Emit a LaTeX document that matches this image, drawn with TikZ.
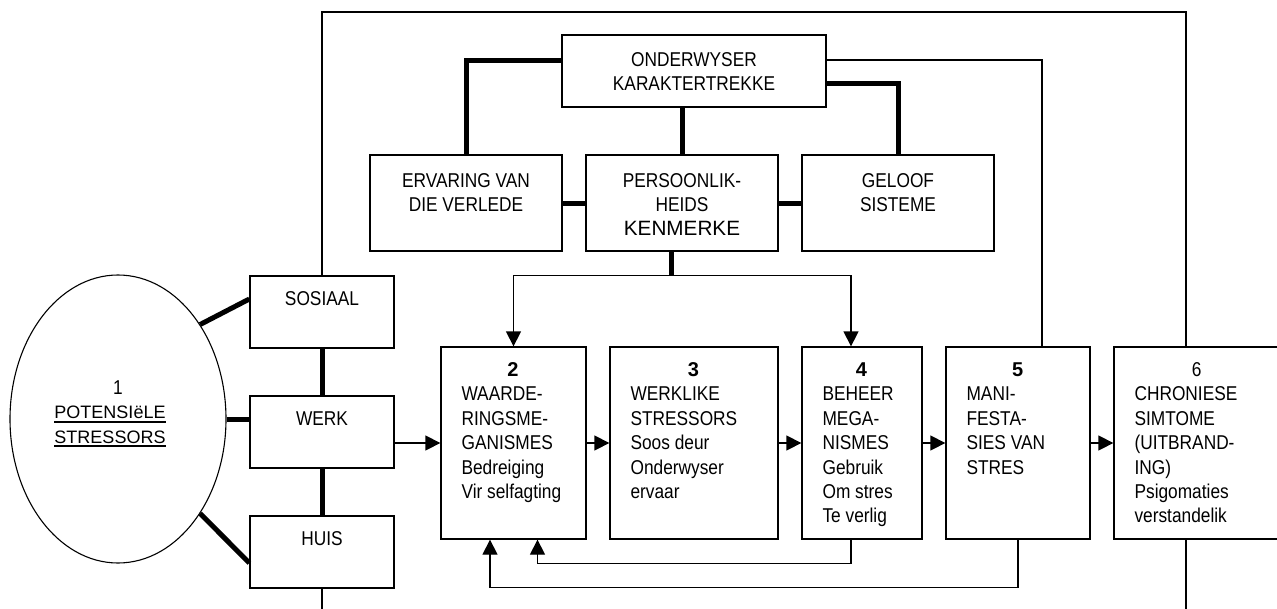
\documentclass[tikz,border=0pt]{standalone}
\usepackage{fontspec}
\setmainfont{Liberation Sans}[FakeStretch=0.865]
\newfontfamily\arialfont{Liberation Sans}
\usetikzlibrary{shapes.geometric,arrows.meta,calc}
\newcommand\mystrut{\rule{0pt}{17pt}}
\newcommand\numfont{\arialfont\bfseries}
\newcommand\myul[1]{\setbox0\hbox{#1}\rlap{\rule[-4pt]{\wd0}{1.8pt}}\box0}
\tikzset{
  box/.style={draw, line width=1.3pt, fill=white, inner sep=0pt, rectangle},
  thinln/.style={line width=1.3pt},
  thickln/.style={line width=5pt},
  arr/.style={line width=1.3pt, -{Triangle[length=15pt,width=15pt]}},
  txt/.style={inner sep=0pt, align=left, font=\fontsize{20}{24.4}\selectfont},
  ctxt/.style={inner sep=0pt, align=center, font=\fontsize{20}{24.4}\selectfont},
}
\begin{document}
\begin{tikzpicture}[x=1pt,y=-1pt]
\useasboundingbox (0,0) rectangle (1277,608);

% top group
\node[box, minimum width=264pt, minimum height=72pt] (ond) at (694,71) {};
\node[box, minimum width=192pt, minimum height=96pt] (erv) at (466,203) {};
\node[box, minimum width=192pt, minimum height=96pt] (per) at (682,203) {};
\node[box, minimum width=192pt, minimum height=96pt] (gel) at (898,203) {};

\node[ctxt, anchor=north] (ondt) at ([shift={(0,14.7)}]ond.north) {\mystrut ONDERWYSER\\KARAKTERTREKKE};
\node[ctxt, anchor=north] (ervt) at ([shift={(0,15.5)}]erv.north) {\mystrut ERVARING VAN\\DIE VERLEDE};
\node[ctxt, anchor=north] (pert) at ([shift={(0,15.5)}]per.north) {\mystrut PERSOONLIK-\\HEIDS\\{\arialfont\fontsize{20.7}{24.4}\selectfont KENMERKE}};
\node[ctxt, anchor=north] (gelt) at ([shift={(0,15.5)}]gel.north) {\mystrut GELOOF\\SISTEME};

% left group
\node[draw, ellipse, line width=1.1pt, minimum width=216pt, minimum height=288pt, inner sep=0pt] (ell) at (118,419) {};
\node[ctxt, anchor=north] (ellt) at (110,377) {\hspace*{16pt}1\mystrut\\{\arialfont\fontsize{18}{24.4}\selectfont\myul{POTENSIëLE}}\\{\arialfont\fontsize{18}{24.4}\selectfont\myul{STRESSORS}}};

\node[box, minimum width=144pt, minimum height=72pt] (sos) at (322,312) {};
\node[box, minimum width=144pt, minimum height=72pt] (werk) at (322,432) {};
\node[box, minimum width=144pt, minimum height=72pt] (huis) at (322,552) {};
\node[ctxt, anchor=north] (sost) at ([shift={(0,12.5)}]sos.north) {\mystrut SOSIAAL};
\node[ctxt, anchor=north] (werkt) at ([shift={(0,12.5)}]werk.north) {\mystrut WERK};
\node[ctxt, anchor=north] (huist) at ([shift={(0,12.5)}]huis.north) {\mystrut HUIS};

% main row
\node[box, minimum width=145pt, minimum height=192pt] (b2) at (513.5,443) {};
\node[box, minimum width=168pt, minimum height=192pt] (b3) at (694,443) {};
\node[box, minimum width=120pt, minimum height=192pt] (b4) at (862,443) {};
\node[box, minimum width=144pt, minimum height=192pt] (b5) at (1018,443) {};
\node[box, minimum width=166pt, minimum height=192pt] (b6) at (1197,443) {};

\node[txt, anchor=north west] (b2t) at ([shift={(21,13)}]b2.north west)
  {\hbox to 103pt{\mystrut\hfil\numfont 2\hfil}\\WAARDE-\\RINGSME-\\GANISMES\\Bedreiging\\Vir selfagting};
\node[txt, anchor=north west] (b3t) at ([shift={(21,13)}]b3.north west)
  {\hbox to 126pt{\mystrut\hfil\numfont 3\hfil}\\WERKLIKE\\STRESSORS\\Soos deur\\Onderwyser\\ervaar};
\node[txt, anchor=north west] (b4t) at ([shift={(21,13)}]b4.north west)
  {\hbox to 78pt{\mystrut\hfil\numfont 4\hfil}\\BEHEER\\MEGA-\\NISMES\\Gebruik\\Om stres\\Te verlig};
\node[txt, anchor=north west] (b5t) at ([shift={(21,13)}]b5.north west)
  {\hbox to 102pt{\mystrut\hfil\numfont 5\hfil}\\MANI-\\FESTA-\\SIES VAN\\STRES};
\node[txt, anchor=north west] (b6t) at ([shift={(21,13)}]b6.north west)
  {\hbox to 124pt{\mystrut\hfil 6\hfil}\\CHRONIESE\\SIMTOME\\(UITBRAND-\\ING)\\Psigomaties\\verstandelik};

% outer frame lines
\draw[thinln] (sos.north) -- (sos.north |- 0,12) -| ([xshift=-11pt]b6.north);
\draw[thinln] (huis.south) -- (huis.south |- 0,620);
\draw[thinln] ([xshift=-11pt]b6.south) -- ++(0,80);

% top connectors
\draw[thickln] ([yshift=11pt]ond.west) -| (erv.north);
\draw[thickln] ([yshift=-12pt]ond.east) -| (gel.north);
\draw[thickln] (per.north |- ond.south) -- (per.north);
\draw[thickln] (erv.east) -- (per.west);
\draw[thickln] (per.east) -- (gel.west);
\draw[thinln] ([yshift=11pt]ond.east) -| ([xshift=24pt]b5.north);

\coordinate (split) at ($([xshift=-11pt]per.south)+(0,24)$);
\draw[thickln] ([xshift=-11pt]per.south) -- (split);
\draw[arr] (split) -| (b2.north);
\draw[arr] (split) -| ([xshift=-11pt]b4.north);

% left connectors
\draw[thickln] (ell.49) -- ([yshift=13pt]sos.west);
\draw[thickln] (ell.0) -- (ell.0 -| werk.west);
\draw[thickln] (ell.-49) -- ([yshift=-11pt]huis.west);
\draw[thickln] (sos.south) -- (werk.north);
\draw[thickln] (werk.south) -- (huis.north);

% main row arrows
\draw[arr] (werk.east |- b2.west) -- (b2.west);
\draw[arr] (b2.east) -- (b3.west);
\draw[arr] (b3.east) -- (b4.west);
\draw[arr] (b4.east) -- (b5.west);
\draw[arr] (b5.east) -- (b6.west);

% feedback
\draw[arr] ([xshift=-11pt]b4.south) -- ++(0,24) -| ([xshift=24pt]b2.south);
\draw[arr] (b5.south) -- ++(0,48) -| ([xshift=-23.5pt]b2.south);
\end{tikzpicture}
\end{document}
